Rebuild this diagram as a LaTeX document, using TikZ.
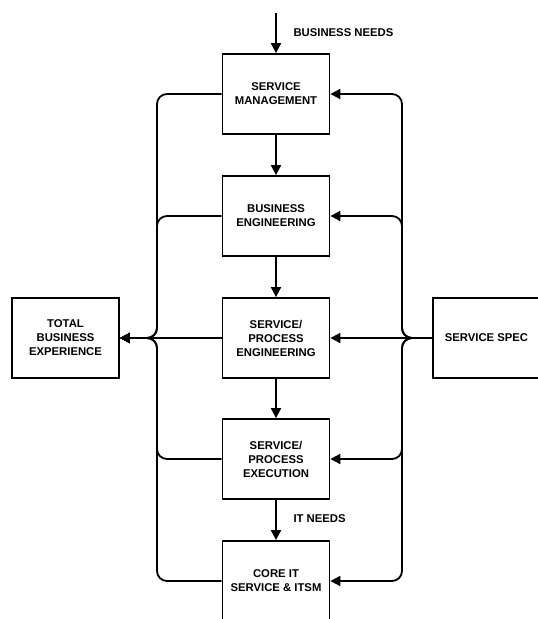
\documentclass[tikz,border=0pt]{standalone}
\usepackage{fontspec}
\setmainfont{Liberation Sans}
\usetikzlibrary{arrows.meta}

\tikzset{
  blk/.style={rectangle,draw,line width=1.8pt,minimum width=107pt,minimum height=80pt,
    align=center,inner sep=2pt,font=\fontsize{11.3}{14}\selectfont\bfseries},
  lbl/.style={anchor=west,font=\fontsize{11.3}{14}\selectfont\bfseries},
  flow/.style={line width=1.8pt,-{Triangle[length=10pt,width=10pt]}},
  bus/.style={flow,rounded corners=10pt}
}

\begin{document}
\begin{tikzpicture}[x=1pt,y=-1pt]

    \useasboundingbox (0,0) rectangle (538,619);

    % main column
    \node[blk] (sm) at (276,94) {SERVICE\\MANAGEMENT};
    \node[blk] (be) at (276,216) {BUSINESS\\ENGINEERING};
    \node[blk] (spe) at (276,338) {SERVICE/\\PROCESS\\ENGINEERING};
    \node[blk] (spx) at (276,459) {SERVICE/\\PROCESS\\EXECUTION};
    \node[blk] (core) at (276,581) {CORE IT\\SERVICE \& ITSM};

    % side boxes
    \node[blk] (tbe) at (65.5,338) {TOTAL\\BUSINESS\\EXPERIENCE};
    \node[blk] (spec) at (486.5,338) {SERVICE SPEC};

    % junctions on the two buses
    \coordinate (lbus) at (157,338);
    \coordinate (rbus) at (402,338);
    \coordinate (needs) at (276,13);

    % vertical flow
    \draw[flow] (needs) -- (sm.north);
    \node[lbl] (bn) at (290,33) {BUSINESS NEEDS};
    \draw[flow] (sm.south) -- (be.north);
    \draw[flow] (be.south) -- (spe.north);
    \draw[flow] (spe.south) -- (spx.north);
    \draw[flow] (spx.south) -- (core.north);
    \node[lbl] (itn) at (290,519) {IT NEEDS};

    % left bus to total business experience
    \draw[bus] (sm.west) -| (lbus) -- (tbe.east);
    \draw[bus] (be.west) -| (lbus) -- (tbe.east);
    \draw[flow] (spe.west) -- (tbe.east);
    \draw[bus] (spx.west) -| (lbus) -- (tbe.east);
    \draw[bus] (core.west) -| (lbus) -- (tbe.east);

    % right bus from service spec
    \draw[bus] (spec.west) -- (rbus) |- (sm.east);
    \draw[bus] (spec.west) -- (rbus) |- (be.east);
    \draw[flow] (spec.west) -- (spe.east);
    \draw[bus] (spec.west) -- (rbus) |- (spx.east);
    \draw[bus] (spec.west) -- (rbus) |- (core.east);

\end{tikzpicture}
\end{document}
